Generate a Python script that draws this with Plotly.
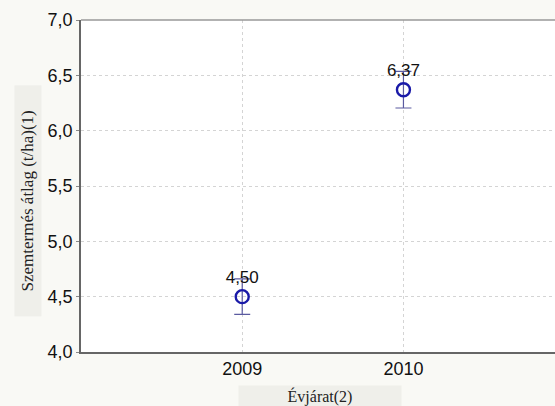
import plotly.graph_objects as go

years = [2009, 2010]
means = [4.50, 6.37]
errs = [0.16, 0.165]
labels = ["4,50", "6,37"]
yticks = [4.0, 4.5, 5.0, 5.5, 6.0, 6.5, 7.0]

fig = go.Figure()
fig.add_trace(go.Scatter(
    x=years, y=means, mode="markers+text",
    marker=dict(symbol="circle-open", size=13, color="#1a1aa8", line=dict(width=2.4, color="#1a1aa8")),
    error_y=dict(type="data", array=errs, color="#5a5aa0", thickness=1.2, width=8),
    text=labels, textposition="top center",
    textfont=dict(family="Arial, Liberation Sans", size=17, color="#111"),
    cliponaxis=False, showlegend=False,
))

fig.update_layout(
    width=555, height=406,
    margin=dict(l=81, r=0, t=20, b=54),
    paper_bgcolor="#f9f9f5", plot_bgcolor="white",
    separators=", ",
    xaxis=dict(range=[2008, 2010.94], tickvals=years, ticktext=[str(y) for y in years],
               showgrid=True, gridcolor="#d4d4d4", griddash="dot", gridwidth=1,
               showline=True, linecolor="#666666", linewidth=1.5, zeroline=False,
               ticks="", tickfont=dict(family="Arial, Liberation Sans", size=18, color="#111")),
    yaxis=dict(range=[4.0, 7.0], tickvals=yticks, tickformat=".1f",
               showgrid=True, gridcolor="#d4d4d4", griddash="dot", gridwidth=1,
               showline=True, linecolor="#666666", linewidth=1.5, zeroline=False,
               ticks="outside", ticklen=3, tickcolor="#888",
               tickfont=dict(family="Arial, Liberation Sans", size=18, color="#111")),
    shapes=[dict(type="line", xref="paper", yref="paper", x0=0, x1=1, y0=1, y1=1,
                 line=dict(color="#999999", width=1.5))],
    annotations=[
        dict(text="Szemtermés átlag (t/ha)(1)", xref="paper", yref="paper",
             x=-0.112, y=0.455, textangle=-90, showarrow=False,
             font=dict(family="Liberation Serif, Times New Roman", size=17, color="#222"),
             bgcolor="#efefea", height=24, width=228, xanchor="center", yanchor="middle"),
        dict(text="Évjárat(2)", xref="paper", yref="paper",
             x=0.505, y=-0.1, showarrow=False,
             font=dict(family="Liberation Serif, Times New Roman", size=16, color="#222"),
             bgcolor="#efefea", width=160, height=19, xanchor="center", yanchor="top"),
    ],
)

fig.write_html("out.html", config={"displayModeBar": False},
               post_script="document.body.style.margin='0px';document.body.style.background='#f9f9f5';document.body.style.overflow='hidden';")
